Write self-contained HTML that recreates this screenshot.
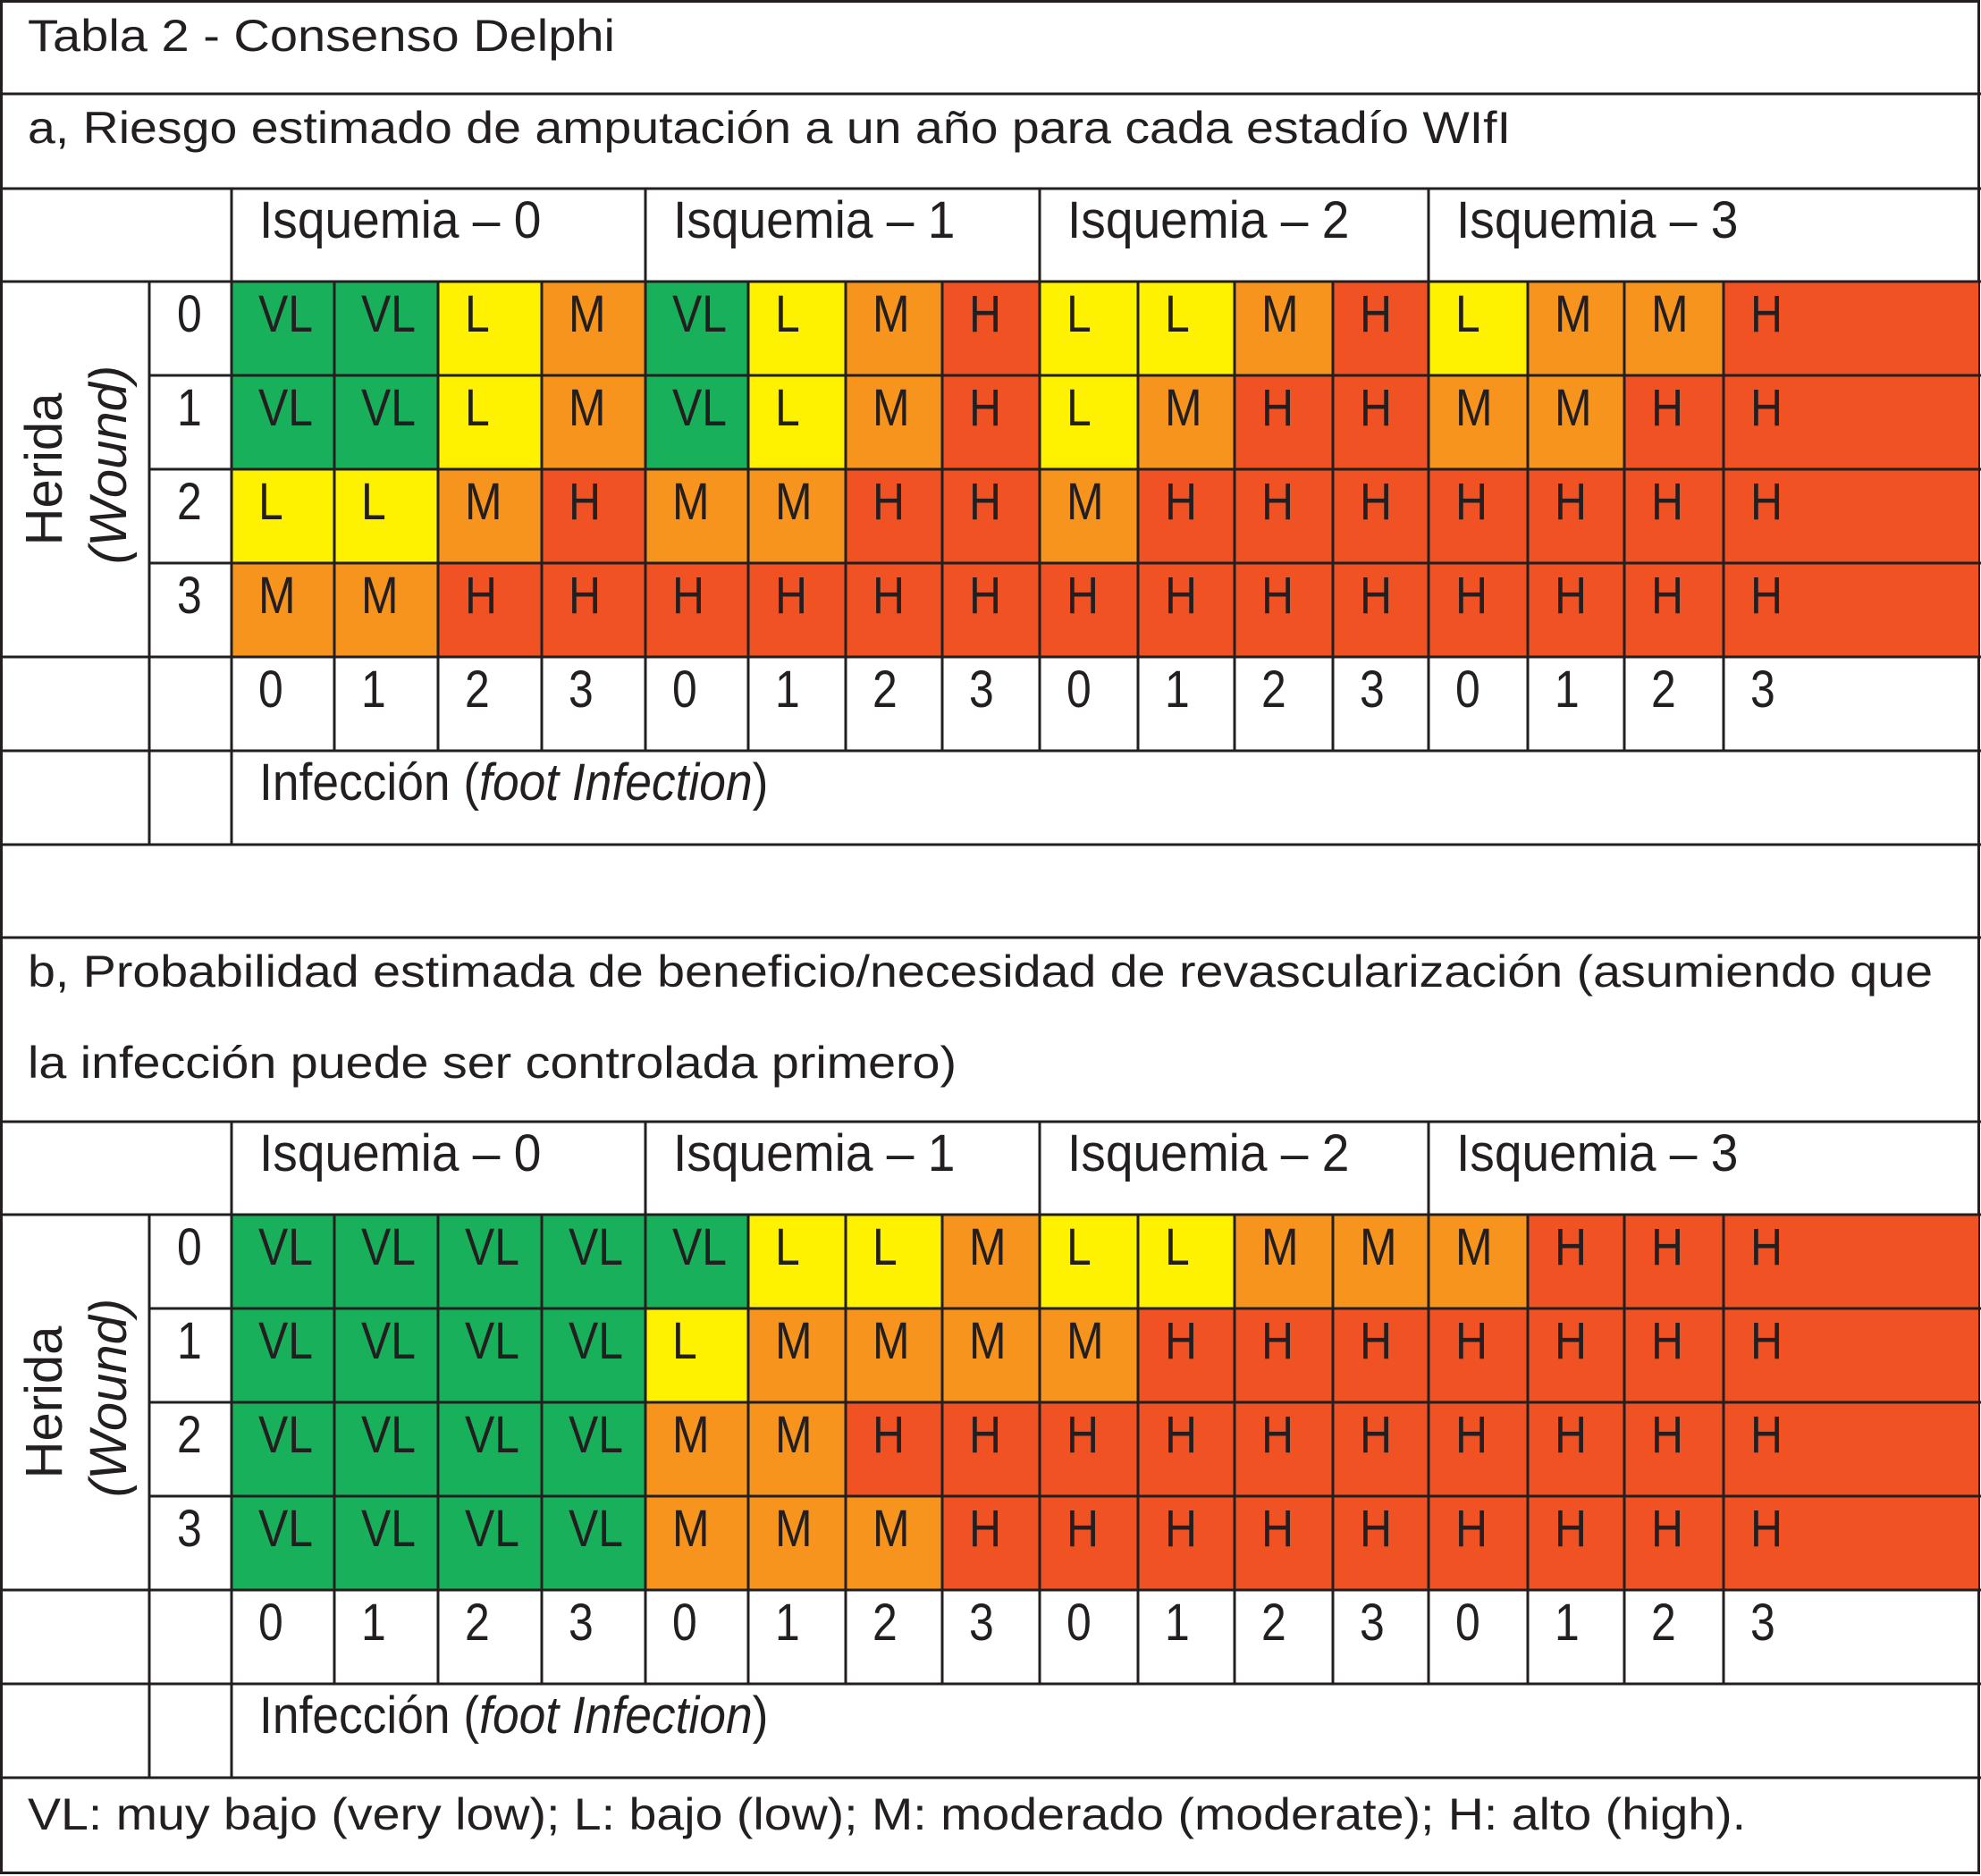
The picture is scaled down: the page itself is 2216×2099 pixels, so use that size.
<!DOCTYPE html>
<html><head><meta charset="utf-8"><style>
html,body{margin:0;padding:0;background:#fff}
svg{display:block}
text{font-family:"Liberation Sans",sans-serif;fill:#231f20}
</style></head><body>
<svg id="s" width="2216" height="2099" viewBox="0 0 2216 2099" xmlns="http://www.w3.org/2000/svg"></svg>
<script>
const colEdges=[259,374,490,606,722,837,946,1054,1163,1273,1381,1491,1598,1709,1817,1928,2213];
const infLabels=["0","1","2","3","0","1","2","3","0","1","2","3","0","1","2","3"];
const woundLabels=["0","1","2","3"];
const isqLabels=["Isquemia – 0","Isquemia – 1","Isquemia – 2","Isquemia – 3"];
const amputation=[
["VL","VL","L","M","VL","L","M","H","L","L","M","H","L","M","M","H"],
["VL","VL","L","M","VL","L","M","H","L","M","H","H","M","M","H","H"],
["L","L","M","H","M","M","H","H","M","H","H","H","H","H","H","H"],
["M","M","H","H","H","H","H","H","H","H","H","H","H","H","H","H"]];
const revasc=[
["VL","VL","VL","VL","VL","L","L","M","L","L","M","M","M","H","H","H"],
["VL","VL","VL","VL","L","M","M","M","M","H","H","H","H","H","H","H"],
["VL","VL","VL","VL","M","M","H","H","H","H","H","H","H","H","H","H"],
["VL","VL","VL","VL","M","M","M","H","H","H","H","H","H","H","H","H"]];
const colors={VL:"#19b05b",L:"#fff200",M:"#f7941e",H:"#f05223"};
const NS="http://www.w3.org/2000/svg";
const svg=document.getElementById('s');
const LC="#231f20",LW=3;
function el(tag,attrs,parent){const e=document.createElementNS(NS,tag);for(const k in attrs)e.setAttribute(k,attrs[k]);(parent||svg).appendChild(e);return e;}
function line(x1,y1,x2,y2,name){const l=el('line',{x1:x1,y1:y1,x2:x2,y2:y2,stroke:LC,'stroke-width':LW});

}
function txt(s,x,y,size,name,opts){opts=opts||{};const t=el('text',{x:x,y:y,'font-size':size});
t.textContent=s;


if(opts.len){t.setAttribute('textLength',opts.len);t.setAttribute('lengthAdjust','spacingAndGlyphs');}
if(opts.sx){t.setAttribute('transform','translate('+x+','+y+') scale('+opts.sx+',1) translate('+(-x)+','+(-y)+')');}
if(opts.rot){t.setAttribute('transform','rotate(-90 '+x+' '+y+')');t.setAttribute('text-anchor','middle');}
if(opts.italic)t.setAttribute('font-style','italic');
return t;}
const SX=0.86,FS=58;
function section(top,data,key){
 const hTop=top,dTop=top+104,rowH=[0,105,210,315,420].map(v=>dTop+v),numTop=rowH[4],infTop=numTop+105,infBot=infTop+105;
 data.forEach((row,r)=>{row.forEach((v,c)=>{
  const rc=el('rect',{x:colEdges[c],y:rowH[r],width:colEdges[c+1]-colEdges[c],height:rowH[r+1]-rowH[r],fill:colors[v]});
  
  
  txt(v,colEdges[c]+30,rowH[r]+56,FS,key+'-cell-label',{sx:SX});
 });});
 [hTop,dTop,numTop,infTop,infBot].forEach(y=>line(0,y,2216,y,key+'-hline'));
 [rowH[1],rowH[2],rowH[3]].forEach(y=>line(167,y,2216,y,key+'-hline'));
 line(167,dTop,167,infBot,key+'-vline');
 line(259,hTop,259,infBot,key+'-vline');
 [722,1163,1598].forEach(x=>line(x,hTop,x,dTop,key+'-isq-divider'));
 colEdges.slice(1,16).forEach(x=>line(x,dTop,x,infTop,key+'-vline'));
 isqLabels.forEach((s,i)=>txt(s,colEdges[i*4]+31,hTop+55,FS,key+'-isquemia-header',{sx:0.95}));
 woundLabels.forEach((s,i)=>txt(s,198,rowH[i]+56,FS,key+'-wound-grade',{sx:SX}));
 infLabels.forEach((s,i)=>txt(s,colEdges[i]+30,numTop+56,FS,key+'-infection-grade',{sx:SX}));
 txt("Herida",69,dTop+210,58,key+'-wound-title',{rot:true});
 txt("(Wound)",141,dTop+205,58,key+'-wound-title-en',{rot:true,italic:true});
 const t=txt("",290,infTop+55,FS,key+'-infection-title',{sx:0.92});
 t.textContent="Infección (";
 const ts=el('tspan',{'font-style':'italic'},t);ts.textContent="foot Infection";
 const ts2=el('tspan',{},t);ts2.textContent=")";
}
const b=el('rect',{x:1.5,y:1.5,width:2212,height:2094,fill:'none',stroke:LC,'stroke-width':LW});


line(0,105,2216,105,'title-divider');
line(0,1049,2216,1049,'section-b-divider');
txt("Tabla 2 - Consenso Delphi",31,57,50,'table-title',{len:657});
txt("a, Riesgo estimado de amputación a un año para cada estadío WIfI",31,160,50,'section-a-title',{len:1659});
txt("b, Probabilidad estimada de beneficio/necesidad de revascularización (asumiendo que",31,1104,50,'section-b-title-1',{len:2131});
txt("la infección puede ser controlada primero)",31,1206,50,'section-b-title-2',{len:1039});
section(211,amputation,'amputation');
section(1255,revasc,'revasc');
txt("VL: muy bajo (very low); L: bajo (low); M: moderado (moderate); H: alto (high).",31,2047,50,'legend-note',{len:1922});
</script>
</body></html>
